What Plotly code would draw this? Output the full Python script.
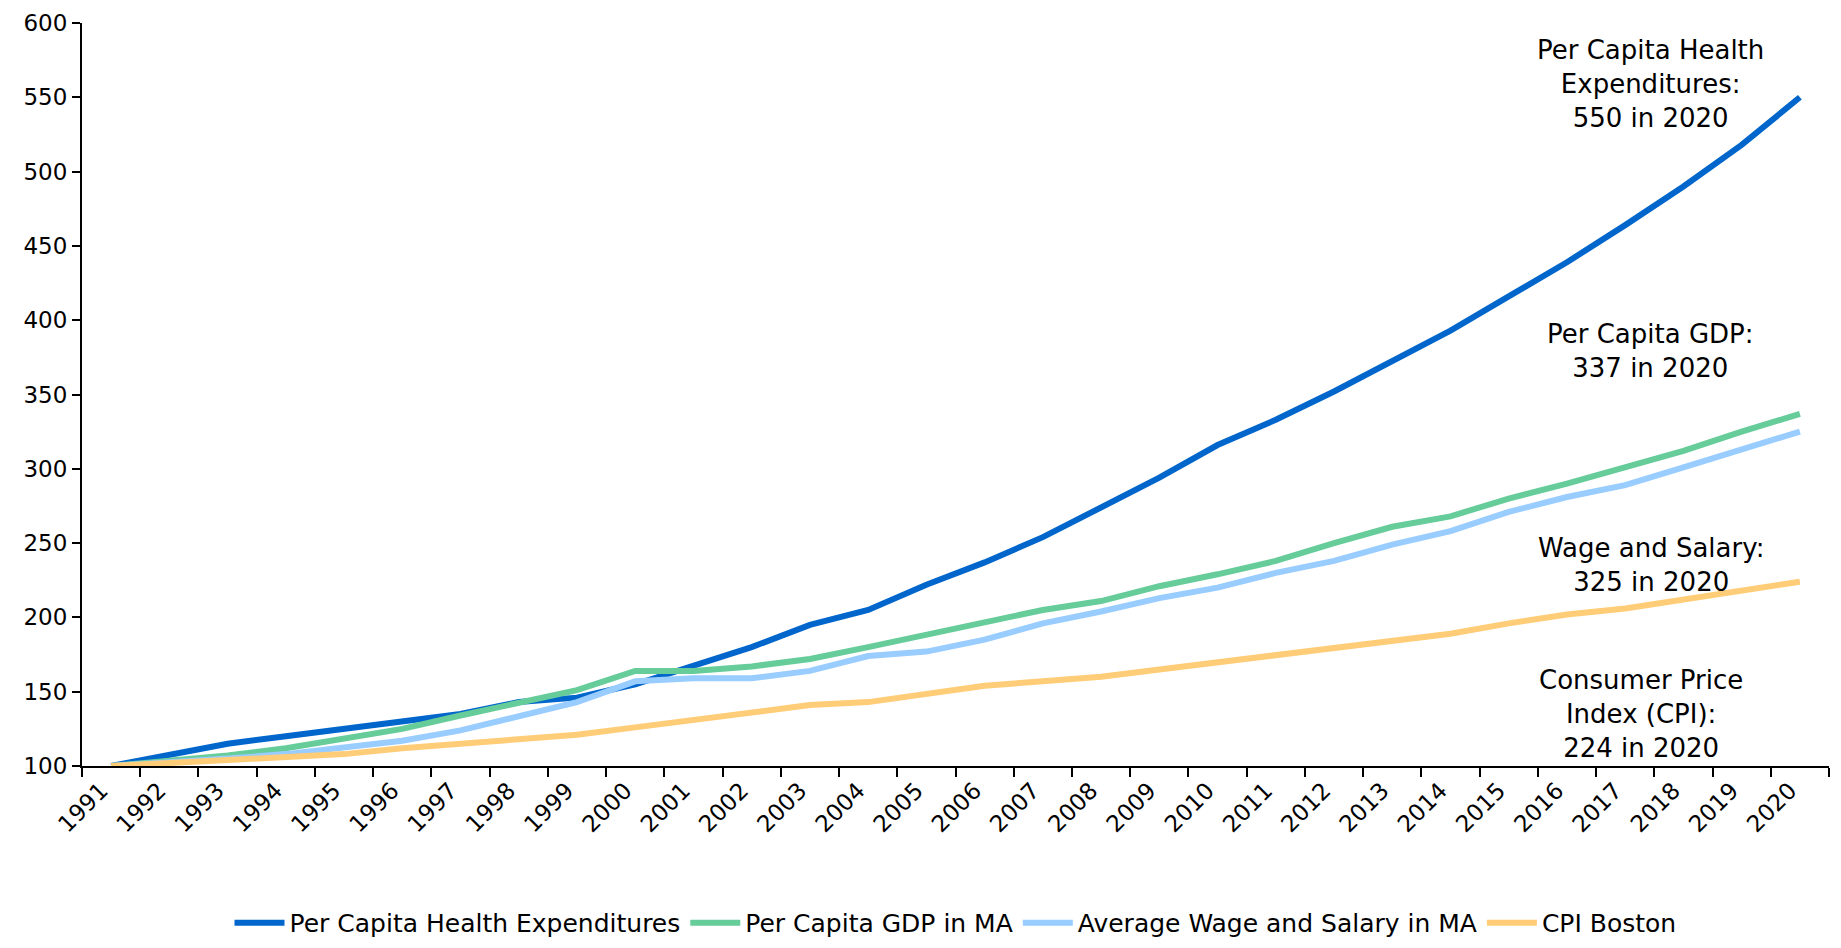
import plotly.graph_objects as go

years = [str(y) for y in range(1991, 2021)]
health = [100, 107, 115, 120, 125, 129, 135, 143, 146, 155, 167, 180, 195, 205, 222,
          237, 254, 274, 294, 316, 333, 352, 372, 393, 416, 439, 464, 490, 518, 550]
gdp = [100, 103, 107, 112, 118, 125, 134, 142, 151, 164, 164, 167, 172, 180, 188,
       197, 205, 211, 221, 229, 238, 250, 261, 268, 280, 290, 301, 312, 325, 337]
wage = [100, 102, 105, 108, 112, 117, 124, 133, 143, 157, 159, 159, 164, 174, 177,
        185, 196, 204, 213, 220, 230, 238, 249, 258, 271, 281, 289, 301, 313, 325]
cpi = [100, 102, 104, 106, 108, 112, 115, 118, 121, 126, 131, 136, 141, 143, 149,
       154, 157, 160, 165, 170, 174, 179, 185, 189, 196, 202, 206, 212, 217, 224]

series_names = ["Per Capita Health Expenditures", "Per Capita GDP in MA",
                "Average Wage and Salary in MA", "CPI Boston"]
series_colors = ["#0066CC", "#66CC99", "#99CCFF", "#FFCC77"]

notes = ["Per Capita Health<br>Expenditures:<br>550 in 2020",
         "Per Capita GDP:<br>337 in 2020",
         "Wage and Salary:<br>325 in 2020",
         "Consumer Price<br>Index (CPI):<br>224 in 2020"]
note_x = [0.898, 0.898, 0.898, 0.8925]
note_y = [559, 379, 235, 135]

FONT = "Verdana, DejaVu Sans, sans-serif"

fig = go.Figure()
for name, vals, col in zip(series_names, [health, gdp, wage, cpi], series_colors):
    fig.add_trace(go.Scatter(x=years, y=vals, mode="lines", name=name,
                             line=dict(color=col, width=6)))

for t, x, y in zip(notes, note_x, note_y):
    fig.add_annotation(text=t, x=x, y=y, xref="paper", yref="y", showarrow=False,
                       xanchor="center", yanchor="middle", align="center",
                       font=dict(family=FONT, size=26, color="#000000"))

fig.update_layout(
    width=1833, height=940,
    margin=dict(l=74, r=12, t=15, b=182, autoexpand=False),
    paper_bgcolor="white", plot_bgcolor="white",
    font=dict(family=FONT, color="#000000"),
    showlegend=True,
    legend=dict(orientation="h", x=0.5, xanchor="center", y=-0.2422, yanchor="bottom",
                font=dict(family=FONT, size=25, color="#000000"),
                itemwidth=50, tracegroupgap=0),
)
fig.update_xaxes(type="category", range=[-0.5, 29.5], showgrid=False,
                 showline=True, linecolor="black", linewidth=2,
                 ticks="outside", tickson="boundaries", ticklen=9, tickwidth=2,
                 tickcolor="black", tickangle=-45, ticklabelshift=-10,
                 ticklabeloverflow="allow",
                 tickfont=dict(family=FONT, size=23, color="#000000"))
fig.update_yaxes(range=[100, 600], tickvals=list(range(100, 601, 50)),
                 showgrid=False, zeroline=False, showline=True, linecolor="black",
                 linewidth=2, ticks="outside", ticklen=8, tickwidth=2, tickcolor="black",
                 ticklabeloverflow="allow",
                 tickfont=dict(family=FONT, size=23, color="#000000"))

fig.write_html("out.html")
